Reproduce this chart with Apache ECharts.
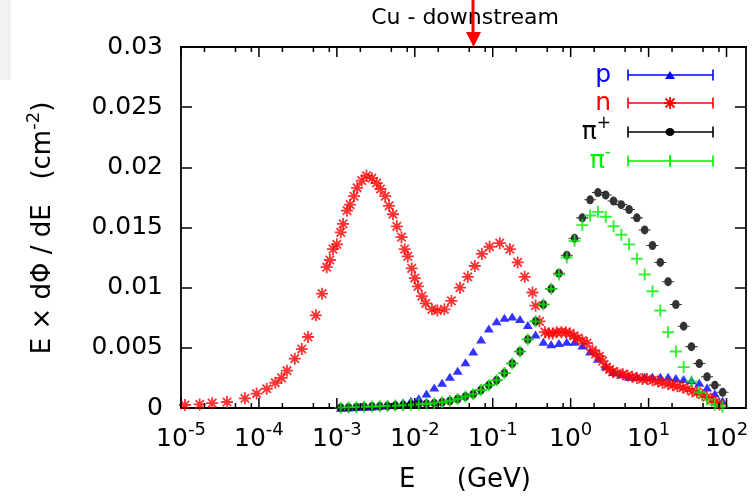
<!DOCTYPE html>
<html><head><meta charset="utf-8">
<script src="https://cdn.jsdelivr.net/npm/echarts@6/dist/echarts.min.js"></script>
<style>html,body{margin:0;padding:0;background:#fff}#c{width:753px;height:496px}</style>
</head><body><div id="c"></div>
<script>
// ---------- data (x stored as log10(E / GeV)) ----------
const chartTitle = 'Cu - downstream';
const xTickExps = [-5, -4, -3, -2, -1, 0, 1, 2];
const xTickLabels = ['-5', '-4', '-3', '-2', '-1', '0', '1', '2'];
const xMinorMultipliers = [2, 5, 8];
const yTickValues = [0, 0.005, 0.01, 0.015, 0.02, 0.025, 0.03];
const yTickLabels = ['0', '0.005', '0.01', '0.015', '0.02', '0.025', '0.03'];
const legendNames = ['p', 'n', 'π+', 'π-'];

// common binning of p, pi+, pi- (log10 E)
const binLogE = [-2.95,-2.85,-2.75,-2.65,-2.55,-2.45,-2.35,-2.25,-2.15,-2.05,
  -1.95,-1.85,-1.75,-1.65,-1.55,-1.45,-1.35,-1.25,-1.15,-1.05,
  -0.95,-0.85,-0.75,-0.65,-0.55,-0.45,-0.35,-0.25,-0.15,-0.05,
  0.05,0.15,0.25,0.35,0.45,0.55,0.65,0.75,0.85,0.95,
  1.05,1.15,1.25,1.35,1.45,1.55,1.65,1.75,1.85,1.95];
const pValues = [0.00003,0.00005,0.00008,0.0001,0.00013,0.00018,0.00025,0.00035,0.00045,0.0006,
  0.0008,0.0012,0.0017,0.0021,0.0026,0.0031,0.0038,0.0047,0.0057,0.0066,
  0.0072,0.0075,0.0076,0.0074,0.0069,0.0061,0.0055,0.0053,0.0054,0.0055,
  0.0055,0.0052,0.0047,0.0041,0.0035,0.0030,0.0028,0.0026,0.0026,0.0026,
  0.0026,0.0026,0.0026,0.0025,0.0024,0.0023,0.0021,0.0017,0.0012,0.0006];
const piPlusValues = [0.00003,0.00005,0.00007,0.0001,0.00012,0.00014,0.00017,0.0002,0.00024,0.00028,
  0.00032,0.00036,0.0004,0.00048,0.00058,0.00075,0.00095,0.00115,0.0015,0.0019,
  0.0023,0.0029,0.0037,0.0047,0.0057,0.0072,0.0086,0.0099,0.0112,0.0127,
  0.0141,0.0158,0.0173,0.0179,0.0177,0.0172,0.0169,0.0165,0.0158,0.0148,
  0.0135,0.0121,0.0105,0.0086,0.0068,0.0051,0.0037,0.0026,0.0019,0.0013];
const piMinusValues = [0.00003,0.00005,0.00007,0.0001,0.00012,0.00014,0.00017,0.0002,0.00024,0.00028,
  0.00032,0.00036,0.0004,0.00048,0.00058,0.00075,0.00095,0.00115,0.0015,0.0019,
  0.0023,0.0029,0.0037,0.0047,0.0057,0.0072,0.0086,0.0099,0.0111,0.0125,
  0.0139,0.0152,0.0160,0.0163,0.0159,0.0151,0.0144,0.0136,0.0124,0.0111,
  0.0097,0.0081,0.0063,0.0047,0.0034,0.0022,0.0013,0.0007,0.0003,0.0001];

// neutrons (own binning)
const nLogE = [-4.95,-4.76,-4.60,-4.41,-4.18,-4.03,-3.90,-3.79,-3.71,-3.64,
  -3.54,-3.45,-3.37,-3.27,-3.19,-3.13,-3.09,-3.05,-3.00,-2.95,
  -2.92,-2.87,-2.83,-2.78,-2.74,-2.68,-2.62,-2.55,-2.49,-2.44,
  -2.38,-2.33,-2.28,-2.23,-2.17,-2.13,-2.09,-2.04,-2.00,-1.96,
  -1.91,-1.86,-1.78,-1.71,-1.62,-1.53,-1.42,-1.32,-1.23,-1.14,
  -1.04,-0.91,-0.78,-0.68,-0.59,-0.49,-0.45,-0.40,-0.33,-0.28,
  -0.23,-0.18,-0.12,-0.06,-0.01,0.04,0.09,0.15,0.21,0.28,
  0.32,0.37,0.41,0.46,0.50,0.54,0.60,0.67,0.73,0.79,
  0.85,0.92,0.98,1.05,1.12,1.18,1.25,1.31,1.37,1.44,
  1.50,1.56,1.62,1.69,1.75,1.81,1.86,1.91];
const nValues = [0.00025,0.0003,0.0004,0.0005,0.0008,0.0012,0.0016,0.0021,0.0025,0.0031,
  0.0041,0.0049,0.0059,0.0077,0.0095,0.0117,0.0123,0.0132,0.0136,0.0146,
  0.0153,0.0164,0.0169,0.0176,0.0183,0.0189,0.0193,0.0191,0.0187,0.0182,
  0.0176,0.0168,0.0161,0.0151,0.0142,0.0132,0.0126,0.0116,0.0108,0.0101,
  0.0093,0.0087,0.0082,0.0081,0.0082,0.0089,0.0100,0.0109,0.0118,0.0128,
  0.0134,0.0137,0.0132,0.0121,0.0109,0.0096,0.0085,0.0072,0.0063,0.0062,
  0.0062,0.0063,0.0063,0.0063,0.0062,0.0060,0.0058,0.0056,0.0054,0.0048,
  0.0045,0.0043,0.0039,0.0034,0.0032,0.0030,0.0029,0.0028,0.0027,0.0026,
  0.0025,0.0024,0.0024,0.0023,0.0022,0.0021,0.0020,0.0019,0.0018,0.0017,
  0.0016,0.0014,0.0013,0.0011,0.0009,0.0007,0.0005,0.0003];

// ---------- styling ----------
const X_MIN = -5, X_MAX = 2.25, Y_MIN = 0, Y_MAX = 0.03;
const FONT = 'DejaVu Sans';
const COL = { p: '#0000ff', n: '#ff0000', pip: '#000000', pim: '#00ee00' };

const STAR = 'path://M0 8.5L20 8.5L20 11.5L0 11.5Z M8.5 0L11.5 0L11.5 20L8.5 20Z M4.06 1.94L18.06 15.94L15.94 18.06L1.94 4.06Z M15.94 1.94L18.06 4.06L4.06 18.06L1.94 15.94Z';
const PLUS = 'path://M0 8.4L20 8.4L20 11.6L0 11.6Z M8.4 0L11.6 0L11.6 20L8.4 20Z';
const DOT = 'path://M0 7.2L22 7.2L22 8.8L0 8.8Z M4 8A7 7 0 1 1 18 8A7 7 0 1 1 4 8Z';
const TRI = 'path://M5 0L10 8L0 8Z';

function pairs(xs, ys) { return xs.map((x, i) => [x, ys[i]]); }

const tickData = [];
xTickExps.forEach(e => {
  tickData.push([e, 0, 1]);
  xMinorMultipliers.forEach(m => {
    const p = e + Math.log10(m);
    if (p < X_MAX) tickData.push([p, 0, 0]);
  });
});

const chart = echarts.init(document.getElementById('c'), null, { renderer: 'canvas' });
const supRich = {
  b: { fontFamily: FONT, fontSize: 25, color: '#000', lineHeight: 36 },
  s: { fontFamily: FONT, fontSize: 18, color: '#000', lineHeight: 20, verticalAlign: 'top' }
};

const legendRows = [75, 103, 132, 161];
const legendCols = [COL.p, COL.n, COL.pip, COL.pim];
const legendText = ['{a|p}', '{a|n}', '{a|π}{s|+}', '{a|π}{s|-}'];
const graphics = [
  { type: 'rect', shape: { x: 0, y: 0, width: 11, height: 80 }, style: { fill: '#f2f2f2' }, z: 0 },
  { type: 'text', x: 465, y: 18, style: { text: chartTitle, font: '22px "DejaVu Sans"', fill: '#000', align: 'center', verticalAlign: 'middle' } },
  { type: 'text', x: 465, y: 480, style: { text: 'E     (GeV)', font: '26px "DejaVu Sans"', fill: '#000', align: 'center', verticalAlign: 'middle' } },
  { type: 'text', x: 43, y: 228, rotation: Math.PI / 2,
    style: { text: '{a|E × dΦ / dE   (cm}{s|-2}{a|)}', align: 'center', verticalAlign: 'middle',
      rich: { a: { fontFamily: FONT, fontSize: 26, fill: '#000', lineHeight: 36 }, s: { fontFamily: FONT, fontSize: 18, fill: '#000', lineHeight: 20, verticalAlign: 'top' } } } },
  { type: 'line', shape: { x1: 473, y1: 0, x2: 473, y2: 34 }, style: { stroke: '#ff0000', lineWidth: 3 }, z: 100 },
  { type: 'polygon', shape: { points: [[466, 32], [481, 32], [473.5, 47]] }, style: { fill: '#ff0000' }, z: 100 }
];
function legendMarker(i, cx, cy, c) {
  const st = { stroke: c, lineWidth: 1.8 };
  if (i === 0) return [{ type: 'polygon', shape: { points: [[cx, cy - 4], [cx + 5, cy + 4], [cx - 5, cy + 4]] }, style: { fill: c } }];
  if (i === 1) return [
    { type: 'line', shape: { x1: cx - 6, y1: cy, x2: cx + 6, y2: cy }, style: st },
    { type: 'line', shape: { x1: cx, y1: cy - 6, x2: cx, y2: cy + 6 }, style: st },
    { type: 'line', shape: { x1: cx - 4.5, y1: cy - 4.5, x2: cx + 4.5, y2: cy + 4.5 }, style: st },
    { type: 'line', shape: { x1: cx - 4.5, y1: cy + 4.5, x2: cx + 4.5, y2: cy - 4.5 }, style: st }];
  if (i === 2) return [{ type: 'ellipse', shape: { cx: cx, cy: cy, rx: 4.5, ry: 4 }, style: { fill: c } }];
  return [{ type: 'line', shape: { x1: cx, y1: cy - 6, x2: cx, y2: cy + 6 }, style: st }];
}
legendRows.forEach((y, i) => {
  const c = legendCols[i];
  graphics.push({ type: 'text', x: 611, y: y, style: { text: legendText[i], align: 'right', verticalAlign: 'middle',
    rich: { a: { fontFamily: FONT, fontSize: 25, fill: c, lineHeight: 34 }, s: { fontFamily: FONT, fontSize: 17, fill: c, lineHeight: 18, verticalAlign: 'top' } } } });
  graphics.push({ type: 'line', shape: { x1: 628, y1: y, x2: 713, y2: y }, style: { stroke: c, lineWidth: 1.6 } });
  graphics.push({ type: 'line', shape: { x1: 628, y1: y - 5.5, x2: 628, y2: y + 5.5 }, style: { stroke: c, lineWidth: 1.6 } });
  graphics.push({ type: 'line', shape: { x1: 713, y1: y - 5.5, x2: 713, y2: y + 5.5 }, style: { stroke: c, lineWidth: 1.6 } });
  legendMarker(i, 670, y, c).forEach(g => graphics.push(g));
});

const axisLine = { show: true, onZero: false, lineStyle: { color: '#000', width: 1.8 } };
chart.setOption({
  animation: false,
  backgroundColor: '#ffffff',
  grid: { left: 181, right: 7, top: 47, bottom: 88, containLabel: false, outerBoundsMode: 'none' },
  xAxis: [
    { type: 'value', min: X_MIN, max: X_MAX, interval: 1, position: 'bottom', axisLine,
      axisTick: { show: false }, splitLine: { show: false },
      axisLabel: { margin: 13, showMaxLabel: false, rich: supRich,
        formatter: v => { const i = xTickExps.findIndex(e => Math.abs(e - v) < 1e-6); return i < 0 ? '' : '{b|10}{s|' + xTickLabels[i] + '}'; } } },
    { type: 'value', min: X_MIN, max: X_MAX, interval: 1, position: 'top', axisLine,
      axisTick: { show: false }, axisLabel: { show: false }, splitLine: { show: false } }
  ],
  yAxis: [
    { type: 'value', min: Y_MIN, max: Y_MAX, interval: 0.005, position: 'left', axisLine,
      axisTick: { show: true, inside: true, length: 11, lineStyle: { color: '#000', width: 1.5 } },
      splitLine: { show: false },
      axisLabel: { margin: 18, fontFamily: FONT, fontSize: 25, color: '#000',
        formatter: v => { const i = yTickValues.findIndex(t => Math.abs(t - v) < 1e-9); return i < 0 ? '' : yTickLabels[i]; } } },
    { type: 'value', min: Y_MIN, max: Y_MAX, interval: 0.005, position: 'right', axisLine,
      axisTick: { show: true, inside: true, length: 11, lineStyle: { color: '#000', width: 1.5 } },
      axisLabel: { show: false }, splitLine: { show: false } }
  ],
  series: [
    { type: 'custom', name: 'xticks', xAxisIndex: 0, yAxisIndex: 0, data: tickData, encode: { x: 0, y: 1 }, silent: true, z: 5,
      renderItem: (params, api) => {
        const x = api.value(0), major = api.value(2);
        const b = api.coord([x, Y_MIN]), t = api.coord([x, Y_MAX]);
        const len = major ? 10 : 5;
        const st = { stroke: '#000', lineWidth: 1.5 };
        return { type: 'group', children: [
          { type: 'line', shape: { x1: b[0], y1: b[1], x2: b[0], y2: b[1] - len }, style: st },
          { type: 'line', shape: { x1: t[0], y1: t[1], x2: t[0], y2: t[1] + len }, style: st }
        ] };
      } },
    { type: 'scatter', name: legendNames[0], data: pairs(binLogE, pValues), symbol: TRI, symbolSize: [10, 8], itemStyle: { color: COL.p }, z: 2 },
    { type: 'scatter', name: legendNames[1], data: pairs(nLogE, nValues), symbol: STAR, symbolSize: 12, itemStyle: { color: COL.n }, z: 3 },
    { type: 'scatter', name: legendNames[2], data: pairs(binLogE, piPlusValues), symbol: DOT, symbolSize: [12, 9], itemStyle: { color: COL.pip }, z: 4 },
    { type: 'scatter', name: legendNames[3], data: pairs(binLogE, piMinusValues), symbol: PLUS, symbolSize: 12, itemStyle: { color: COL.pim }, z: 4 }
  ],
  graphic: graphics
});
</script></body></html>
